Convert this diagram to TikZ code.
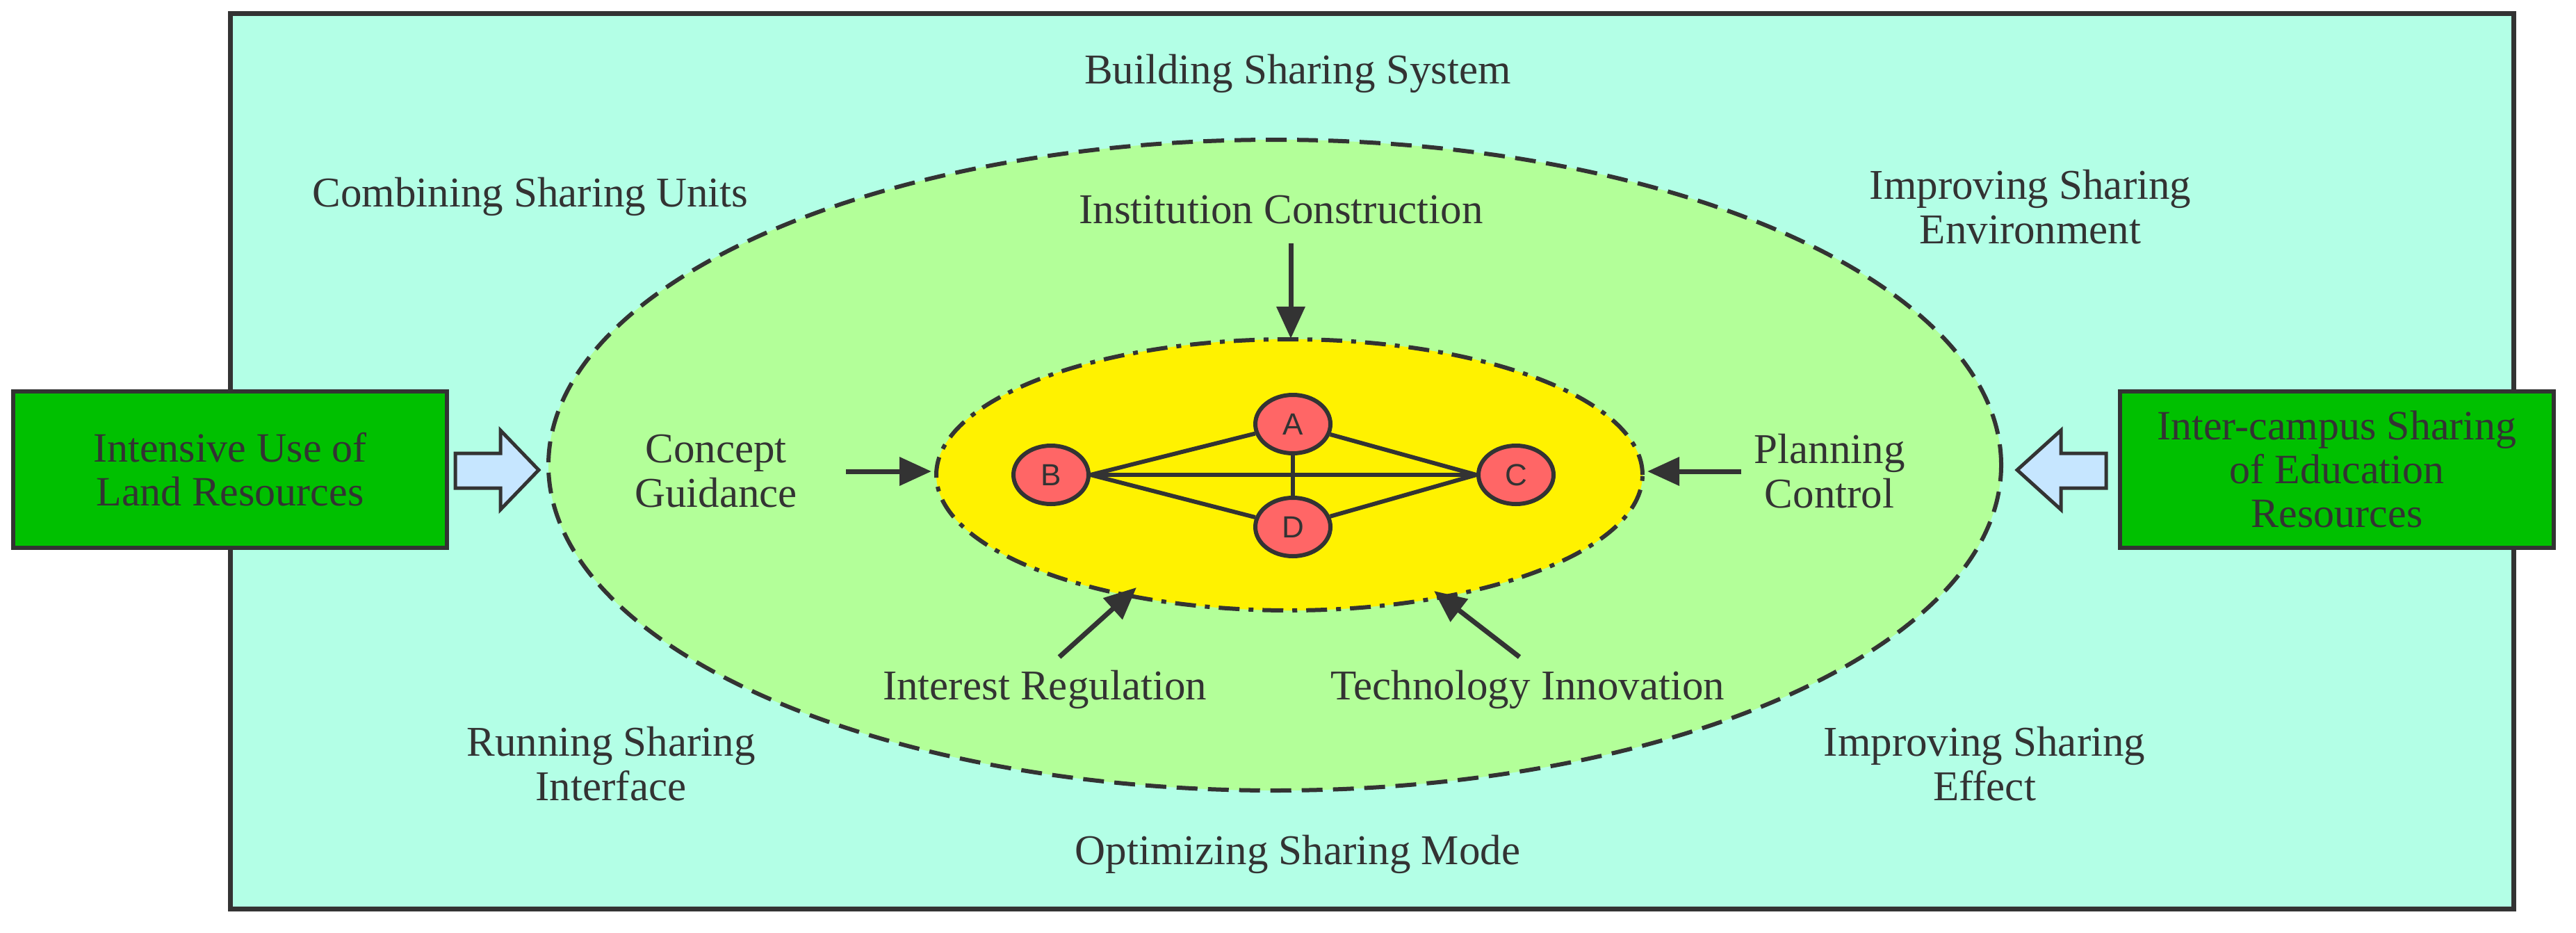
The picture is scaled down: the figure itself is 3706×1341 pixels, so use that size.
\documentclass[tikz,border=0pt]{standalone}
\usepackage{fontspec}
\setmainfont{Liberation Serif}
\newfontfamily\lsans{Liberation Sans}
\usetikzlibrary{arrows.meta,shapes.geometric}
\definecolor{bgc}{HTML}{B3FFE6}
\definecolor{gre}{HTML}{B3FF99}
\definecolor{boxg}{HTML}{00C000}
\definecolor{nod}{HTML}{FF6666}
\definecolor{blu}{HTML}{C6E6FF}
\definecolor{ln}{HTML}{333333}
\begin{document}
\begin{tikzpicture}[x=1pt,y=-1pt,
 lbl/.style={font=\fontsize{61}{64}\selectfont,text=ln,align=center},
 circ/.style={ellipse,draw=ln,line width=6pt,fill=nod,minimum width=108pt,minimum height=84pt,inner sep=0pt,font=\lsans\fontsize{44}{48}\selectfont,text=ln},
 gbox/.style={draw=ln,line width=6pt,fill=boxg,minimum width=624pt,minimum height=225pt,align=center,font=\fontsize{60}{63}\selectfont,text=ln},
 arr/.style={draw=ln,line width=7pt,-{Triangle[length=46pt,width=40pt]}},
 edge/.style={draw=ln,line width=6pt},
 blk/.style={draw=ln,line width=5pt,fill=blu}]
\useasboundingbox (0,0) rectangle (3706,1341);
\draw[fill=bgc,draw=ln,line width=7pt] (331,19) rectangle (3616,1307);
\node[ellipse,draw=ln,fill=gre,line width=6pt,dash pattern=on 30pt off 15pt,minimum width=2090pt,minimum height=936pt] (big) at (1834,669) {};
\node[ellipse,draw=ln,fill=yellow,line width=6pt,dash pattern=on 30pt off 13pt on 7pt off 13pt,minimum width=1016pt,minimum height=390pt] (yel) at (1855,683) {};
\node[circ] (A) at (1860,610) {A};
\node[circ] (B) at (1512,683) {B};
\node[circ] (C) at (2181,683) {C};
\node[circ] (D) at (1860,758) {D};
\draw[edge] (B.east)--(C.west);
\draw[edge] (B.east)--(A);
\draw[edge] (B.east)--(D);
\draw[edge] (C.west)--(A);
\draw[edge] (C.west)--(D);
\draw[edge] (A)--(D);
\node[gbox] (L) at (331,675) {Intensive Use of\\Land Resources};
\node[gbox] (R) at (3362,675) {Inter-campus Sharing\\of Education\\Resources};
\draw[blk] (655,652)--(720,652)--(720,619)--(775,676)--(720,733)--(720,702)--(655,702)--cycle;
\draw[blk] (3030,652)--(2965,652)--(2965,619)--(2902,676)--(2965,733)--(2965,702)--(3030,702)--cycle;
\node[lbl] (t1) at (1867,106) {Building Sharing System};
\node[lbl] (t2) at (763,283) {Combining Sharing Units};
\node[lbl] (ic) at (1843,302) {Institution Construction};
\node[lbl] (t3) at (2921,298) {Improving Sharing\\Environment};
\node[lbl] (cg) at (1030,678) {Concept\\Guidance};
\node[lbl] (pc) at (2632,678) {Planning\\Control};
\node[lbl] (ir) at (1503,992) {Interest Regulation};
\node[lbl] (ti) at (2198,992) {Technology Innovation};
\node[lbl] (t4) at (879,1099) {Running Sharing\\Interface};
\node[lbl] (t5) at (2855,1099) {Improving Sharing\\Effect};
\node[lbl] (t6) at (1867,1229) {Optimizing Sharing Mode};
\coordinate (icE) at (1857,487);
\coordinate (cgE) at (1340,678);
\coordinate (pcE) at (2370,678);
\coordinate (irE) at (1635,845);
\coordinate (tiE) at (2063,850);
\draw[arr] (1857,350)--(icE);
\draw[arr] (1217,678)--(cgE);
\draw[arr] (2505,678)--(pcE);
\draw[arr] (1524,945)--(irE);
\draw[arr] (2186,945)--(tiE);
\end{tikzpicture}
\end{document}
